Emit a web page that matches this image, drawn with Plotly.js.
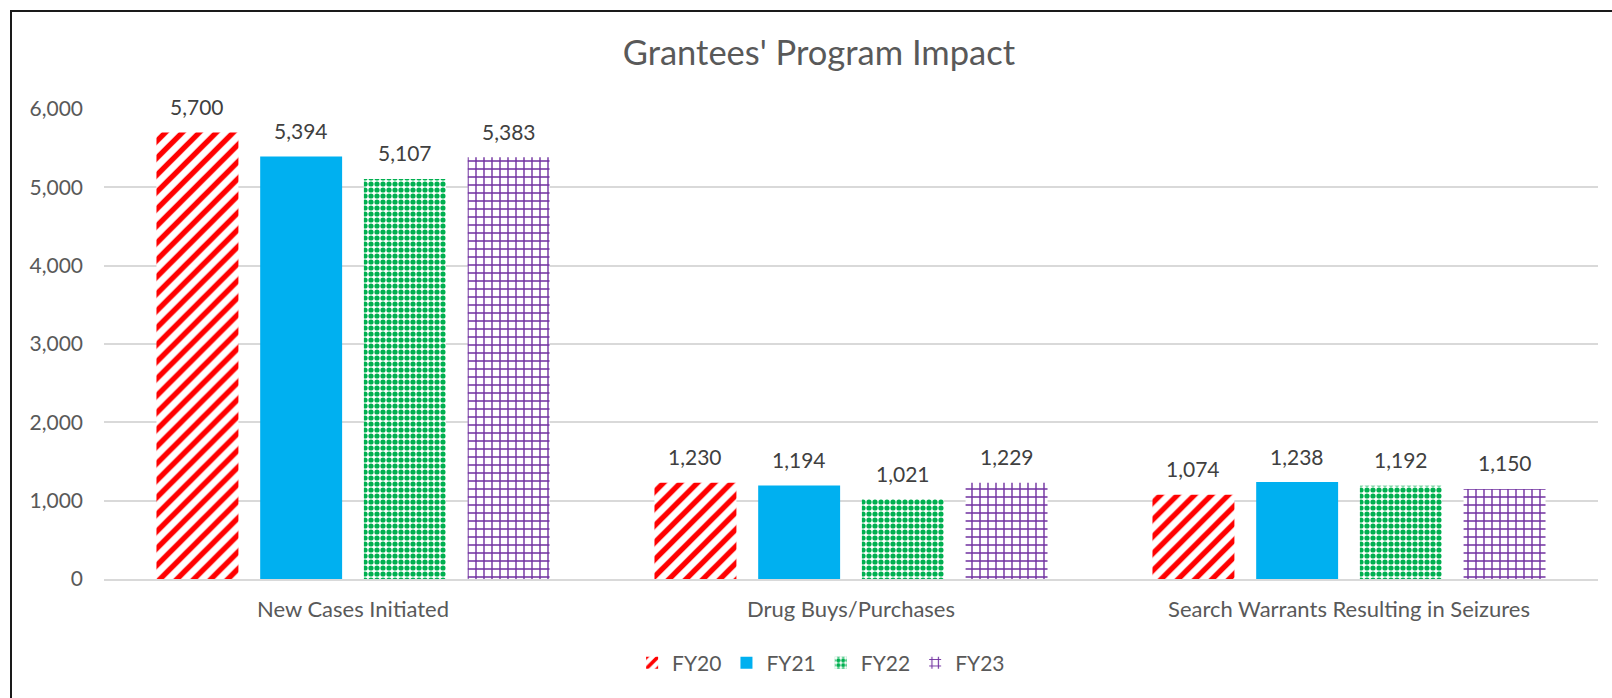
<!DOCTYPE html>
<html>
<head>
<meta charset="utf-8">
<script src="https://cdn.plot.ly/plotly-3.0.1.min.js"></script>
<style>
  html, body { margin: 0; padding: 0; background: #fff; overflow: hidden; }
  #wrap { position: relative; width: 1612px; height: 698px; overflow: hidden; }
  #chart { position: absolute; left: 0; top: 0; width: 1612px; height: 698px; }
  #frame { position: absolute; left: 10px; top: 10px; width: 1700px; height: 800px;
           border-left: 2px solid #1a1a1a; border-top: 2px solid #1a1a1a; pointer-events: none; }
</style>
</head>
<body>
<div id="wrap">
  <div id="chart"></div>
  <div id="frame"></div>
</div>
<script>
// categories and values
const categories = ['New Cases Initiated', 'Drug Buys/Purchases', 'Search Warrants Resulting in Seizures'];
const fy20 = [5700, 1230, 1074];
const fy21 = [5394, 1194, 1238];
const fy22 = [5107, 1021, 1192];
const fy23 = [5383, 1229, 1150];
const seriesNames = ['FY20', 'FY21', 'FY22', 'FY23'];
const yTicks = [0, 1000, 2000, 3000, 4000, 5000, 6000];

const FONT = 'Lato, "Open Sans", sans-serif';
const GREY = '#595959';
const BARGAP = 0.167;

const styles = [
    { color: '#FF0000', pattern: { shape: '/', size: 12, solidity: 0.45 } },
    { color: '#00B0F0', pattern: null },
    { color: '#00B050', pattern: { shape: '.', size: 6, solidity: 0.6 } },
    { color: '#7030A0', pattern: { shape: '+', size: 8, solidity: 0.32 } },
];

const allSeries = [fy20, fy21, fy22, fy23];

const traces = allSeries.map((vals, i) => {
    const st = styles[i];
    const marker = { color: st.color, line: { width: 0 } };
    if (st.pattern) {
        marker.pattern = Object.assign({ fgcolor: st.color, bgcolor: '#ffffff', fillmode: 'replace' }, st.pattern);
    }
    return {
        type: 'bar',
        name: seriesNames[i],
        x: categories,
        y: vals,
        marker: marker,
        hoverinfo: 'x+y',
    };
});

// value labels above each bar
const slot = (1 - BARGAP) / 4;
const annotations = [];
allSeries.forEach((vals, i) => {
    vals.forEach((v, c) => {
        annotations.push({
            x: c + (i - 1.5) * slot,
            y: v,
            xref: 'x', yref: 'y',
            text: v.toLocaleString('en-US'),
            showarrow: false,
            yanchor: 'middle',
            yshift: 26,
            font: { family: FONT, size: 21, color: '#404040' },
        });
    });
});

const layout = {
    width: 1612,
    height: 698,
    paper_bgcolor: 'rgba(0,0,0,0)',
    plot_bgcolor: '#ffffff',
    font: { family: FONT, size: 21, color: GREY },
    title: {
        text: "Grantees' Program Impact",
        font: { family: FONT, size: 34.5, color: GREY },
        x: 0.508, xanchor: 'center',
        y: 1 - 53 / 698, yanchor: 'middle', yref: 'container',
    },
    margin: { l: 104, r: 14, t: 108.5, b: 119 },
    barmode: 'group',
    bargap: BARGAP,
    bargroupgap: 0.21,
    showlegend: true,
    legend: {
        orientation: 'h',
        x: 0.48, xanchor: 'center',
        y: -0.179, yanchor: 'middle',
        font: { family: FONT, size: 21, color: GREY },
        itemwidth: 30,
        traceorder: 'normal',
    },
    xaxis: {
        type: 'category',
        showgrid: false,
        showline: true,
        linecolor: '#D9D9D9',
        linewidth: 1.5,
        ticks: '',
        ticklabelstandoff: 10,
        tickfont: { family: FONT, size: 22, color: GREY },
    },
    yaxis: {
        range: [0, 6000],
        tickvals: yTicks,
        ticktext: yTicks.map(v => v.toLocaleString('en-US')),
        showgrid: true,
        gridcolor: '#D9D9D9',
        gridwidth: 1.5,
        zeroline: false,
        showline: false,
        ticks: '',
        ticklabelstandoff: 20,
        tickfont: { family: FONT, size: 21, color: GREY },
    },
    annotations: annotations,
};

Plotly.newPlot('chart', traces, layout, { displayModeBar: false, responsive: false });
</script>
</body>
</html>
